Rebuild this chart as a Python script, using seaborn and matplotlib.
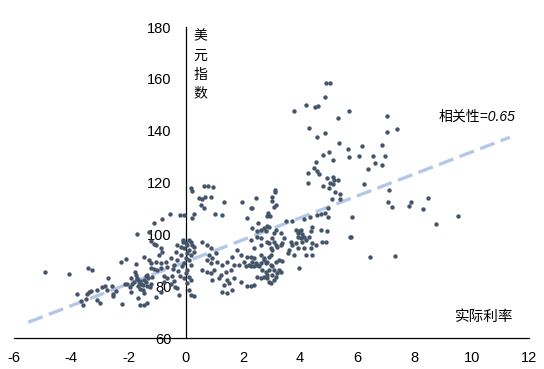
"""
美元指数 vs 实际利率 scatter with dashed trend line
"""
import numpy as np
import pandas as pd
import matplotlib
matplotlib.use('Agg')  # Non-interactive backend
import matplotlib.pyplot as plt
import seaborn as sns

# (实际利率, 美元指数), grouped by region
neg_points = [
    (-4.9, 85.6), (-4.06, 84.8), (-3.40, 87.1), (-3.26, 86.4), (-3.79, 77.1), (-3.58, 72.9),
    (-3.67, 74.3), (-3.44, 77.1), (-3.37, 77.9), (-3.30, 78.3), (-3.50, 75.2), (-3.09, 78.7),
    (-3.09, 74.7), (-2.98, 73.6), (-2.93, 79.7), (-2.83, 80.2), (-2.70, 83.3), (-2.76, 78.4),
    (-2.58, 80.2), (-2.55, 77.1), (-2.53, 76.1), (-2.45, 78.0), (-2.21, 73.3), (-2.25, 89.4),
    (-2.07, 90.6), (-1.71, 100.0), (-1.72, 88.6), (-1.78, 85.5), (-1.90, 83.0), (-2.12, 80.7),
    (-2.04, 81.0), (-1.95, 79.6), (-1.86, 80.7), (-1.91, 77.9), (-1.69, 83.0), (-1.63, 81.5),
    (-1.65, 75.6), (-1.60, 72.8), (-1.75, 84.5), (-1.70, 82.9), (-1.60, 82.0), (-1.55, 81.0),
    (-1.50, 80.5), (-1.45, 82.5), (-1.40, 81.5), (-1.35, 80.0), (-1.30, 83.0), (-1.25, 79.5),
    (-1.60, 79.0), (-1.50, 78.5), (-1.40, 84.0), (-1.20, 81.0), (-1.80, 81.5), (-1.45, 77.5),
    (-1.65, 80.0), (-1.28, 100.8), (-1.22, 97.4), (-1.12, 96.2), (-1.05, 95.9), (-1.46, 91.4),
    (-1.28, 90.1), (-1.22, 88.8), (-1.05, 89.5), (-1.22, 86.9), (-1.11, 86.6), (-1.34, 84.3),
    (-1.16, 83.7), (-1.05, 76.0), (-1.34, 73.4), (-1.46, 72.8), (-1.11, 104.4),
]
near_zero_points = [
    (-0.84, 105.9), (-0.21, 107.6), (-0.06, 107.5), (-0.87, 94.6), (-0.81, 93.1), (-0.93, 92.0),
    (-0.87, 88.8), (-0.70, 89.5), (-0.99, 86.2), (-0.85, 87.1), (-0.66, 87.5), (-0.76, 84.0),
    (-0.64, 83.3), (-0.47, 84.0), (-0.52, 81.0), (-0.76, 81.7), (-0.41, 82.0), (-0.37, 79.8),
    (-0.29, 79.2), (-0.87, 77.9), (-0.23, 76.6), (-0.55, 107.7), (-0.40, 88.0), (-0.30, 90.0),
    (-0.25, 86.0), (-0.20, 84.0), (-0.35, 93.0), (-0.50, 91.0), (-0.45, 86.5), (-0.15, 95.0),
    (-0.10, 98.0), (-0.30, 96.0), (-0.08, 97.2), (-0.06, 94.6), (-0.06, 88.8), (-0.06, 83.1),
    (-0.12, 87.6), (-0.17, 92.1), (0.00, 96.6), (0.06, 95.9), (0.12, 97.9), (0.18, 97.2),
    (0.23, 95.9), (0.29, 95.3), (0.12, 94.0), (0.04, 92.7), (0.18, 92.1), (0.29, 93.3),
    (0.00, 90.8), (0.12, 90.1), (0.18, 88.2), (0.06, 86.3), (0.00, 85.0), (0.12, 83.7),
    (0.18, 82.4), (0.06, 81.1), (0.12, 78.5), (0.18, 76.6), (0.29, 76.4), (0.23, 106.2),
    (0.29, 107.7), (0.17, 117.9), (0.21, 116.7), (0.63, 118.7), (0.77, 118.7), (0.94, 118.3),
    (0.66, 114.4), (0.87, 114.4), (0.52, 111.3), (1.01, 107.9), (1.26, 107.5), (0.47, 113.9),
    (0.58, 113.6), (0.64, 110.0), (1.34, 112.4),
]
low_pos_points = [
    (0.58, 97.2), (0.76, 95.9), (0.88, 94.6), (1.05, 92.7), (0.82, 92.1), (0.93, 90.8),
    (0.76, 90.1), (0.88, 88.8), (1.11, 89.5), (1.28, 88.2), (1.46, 89.5), (1.63, 91.4),
    (1.81, 94.0), (1.92, 92.1), (2.04, 89.5), (2.16, 91.4), (2.22, 88.2), (0.58, 86.3),
    (0.76, 85.6), (0.88, 85.0), (0.99, 86.3), (1.22, 84.4), (1.40, 85.6), (1.57, 86.3),
    (1.69, 88.2), (1.87, 88.2), (2.10, 87.6), (0.93, 82.4), (1.17, 83.1), (1.46, 82.4),
    (1.34, 80.5), (1.69, 83.1), (1.92, 81.8), (2.16, 79.9), (1.28, 77.9), (1.46, 77.3),
    (1.63, 78.6), (1.52, 81.1), (1.98, 112.4), (2.16, 106.2), (2.27, 110.0),
]
mid_pos_points = [
    (2.45, 114.2), (3.03, 114.6), (3.03, 113.0), (3.15, 111.3), (3.09, 110.7), (2.88, 108.1),
    (2.94, 107.2), (2.86, 107.2), (3.50, 105.3), (3.73, 105.3), (2.31, 110.3), (2.54, 104.4),
    (2.86, 103.4), (2.91, 102.7), (2.33, 102.3), (2.48, 101.3), (2.62, 101.7), (2.74, 102.3),
    (2.80, 101.1), (3.15, 101.7), (3.09, 100.4), (3.32, 100.4), (2.51, 99.1), (2.62, 98.5),
    (2.86, 97.2), (2.91, 96.6), (3.03, 98.5), (3.09, 97.2), (3.15, 95.9), (3.21, 95.3),
    (2.97, 94.6), (3.03, 94.0), (3.32, 95.9), (3.38, 96.6), (3.44, 98.5), (2.62, 95.9),
    (2.39, 94.6), (2.27, 97.9), (3.85, 101.7), (3.91, 100.4), (3.96, 101.1), (4.02, 101.7),
    (4.08, 100.0), (3.91, 99.1), (4.02, 98.5), (4.14, 99.1), (4.20, 97.9), (4.31, 99.1),
    (4.37, 101.1), (4.43, 103.0), (4.08, 97.2), (4.14, 94.6), (3.85, 96.6), (3.67, 97.2),
    (3.73, 95.9), (3.91, 94.6), (4.37, 94.6), (4.43, 96.6), (4.55, 95.9), (4.72, 101.7),
    (4.95, 101.1), (4.78, 97.2), (4.90, 97.2), (5.77, 99.1), (4.20, 92.1), (4.43, 92.1),
    (3.79, 92.1), (3.56, 92.7), (3.61, 94.0), (3.96, 86.9), (5.13, 113.7), (5.40, 113.7),
    (4.99, 110.1), (4.86, 108.4), (4.72, 107.9), (4.60, 107.5), (4.99, 106.5), (5.83, 106.7),
    (4.35, 106.7), (4.14, 105.9), (2.27, 91.4), (2.39, 90.8), (2.33, 89.5), (2.45, 88.8),
    (2.51, 88.2), (2.27, 87.6), (2.39, 87.6), (2.56, 87.6), (2.62, 88.8), (2.74, 90.1),
    (2.80, 88.8), (2.86, 89.5), (2.68, 86.3), (2.80, 85.6), (2.91, 86.3), (2.97, 88.2),
    (3.03, 87.6), (3.15, 89.5), (3.26, 90.1), (3.38, 89.7), (2.51, 83.7), (2.62, 83.1),
    (2.74, 83.7), (2.86, 83.1), (2.91, 81.8), (2.97, 81.1), (3.09, 82.4), (3.15, 83.7),
    (3.21, 85.0), (3.32, 85.6), (3.03, 84.4), (3.26, 86.3), (3.09, 86.3), (2.39, 80.5),
    (2.27, 79.9), (2.86, 84.4), (2.74, 90.8), (2.62, 92.1), (2.91, 91.4), (2.97, 92.1),
]
high_points = [
    (4.90, 158.5), (5.04, 158.5), (4.88, 153.0), (3.77, 147.7), (4.20, 150.0), (4.51, 149.3),
    (4.63, 149.7), (5.72, 147.7), (5.34, 145.0), (4.30, 141.2), (4.60, 137.7), (4.86, 139.2),
    (5.37, 135.3), (5.69, 133.1), (5.72, 130.0), (6.07, 130.4), (4.81, 130.6), (5.02, 131.8),
    (5.14, 128.5), (4.57, 127.9), (4.50, 125.7), (4.60, 124.6), (4.65, 123.3), (4.26, 123.8),
    (4.26, 120.0), (4.79, 118.8), (4.93, 121.9), (5.03, 119.8), (5.16, 122.1), (5.19, 120.9),
    (5.33, 121.1), (5.16, 119.5), (5.00, 118.0), (5.21, 116.2), (5.40, 115.7), (3.14, 117.0),
    (3.14, 116.2), (7.03, 145.8), (7.05, 139.6), (7.37, 140.5), (6.17, 134.2), (6.88, 134.6),
    (6.56, 130.1), (6.98, 130.1), (6.61, 127.5), (6.88, 126.9), (6.39, 125.4), (6.22, 119.3),
    (7.09, 117.3), (7.06, 112.6), (7.20, 110.7), (7.89, 112.6), (7.80, 111.1), (8.46, 114.2),
    (8.29, 109.8), (9.53, 107.1), (8.74, 103.8), (6.43, 91.4), (7.31, 91.8), (5.75, 99.1),
]

# trend line as drawn in the reference
trend_range = [-5.5, 11.33]
trend_slope = 4.24
trend_intercept = 89.4
corr_label = '相关性=0.65'

x_ticks = [-6, -4, -2, 0, 2, 4, 6, 8, 10, 12]
y_ticks = [60, 80, 100, 120, 140, 160, 180]

sns.set_style('white')
plt.rcParams['font.family'] = ['Liberation Sans', 'Noto Sans CJK SC', 'DejaVu Sans']
plt.rcParams['axes.unicode_minus'] = False

all_points = neg_points + near_zero_points + low_pos_points + mid_pos_points + high_points
df = pd.DataFrame(all_points, columns=['实际利率', '美元指数'])

fig = plt.figure(figsize=(5.44, 3.69), dpi=100)
ax = fig.add_axes([0.0257, 0.084, 0.9467, 0.8428])

sns.scatterplot(data=df, x='实际利率', y='美元指数', ax=ax,
                color='#44546a', s=10, linewidth=0, zorder=3)

tx = np.array(trend_range)
ty = trend_intercept + trend_slope * tx
sns.lineplot(x=tx, y=ty, ax=ax, color='#b4c7e7', linewidth=2.4,
             linestyle=(0, (4.6, 2.0)), zorder=2)

ax.set_xlim(-6, 12)
ax.set_ylim(60, 180)
ax.set_xticks(x_ticks)
ax.set_yticks(y_ticks)
ax.set_xticklabels([str(t) for t in x_ticks])
ax.set_yticklabels([str(t) for t in y_ticks])

ax.spines['left'].set_position(('data', 0))
ax.spines['top'].set_visible(False)
ax.spines['right'].set_visible(False)
for side in ['left', 'bottom']:
    ax.spines[side].set_color('black')
    ax.spines[side].set_linewidth(0.9)
ax.tick_params(axis='both', direction='out', length=4, width=0.9,
               colors='black', labelsize=10.5)
ax.tick_params(axis='y', pad=6)
ax.tick_params(axis='x', pad=5)
ax.set_xlabel('')
ax.set_ylabel('')

ax.text(0.52, 179, '美\n元\n指\n数', ha='center', va='top', fontsize=10,
        linespacing=1.45, color='black')
ax.text(10.44, 68.1, '实际利率', ha='center', va='center', fontsize=10.5, color='black')
ax.text(10.2, 145.5, corr_label, ha='center', va='center', fontsize=10,
        style='italic', color='black')

fig.savefig('out.png', dpi=100)
